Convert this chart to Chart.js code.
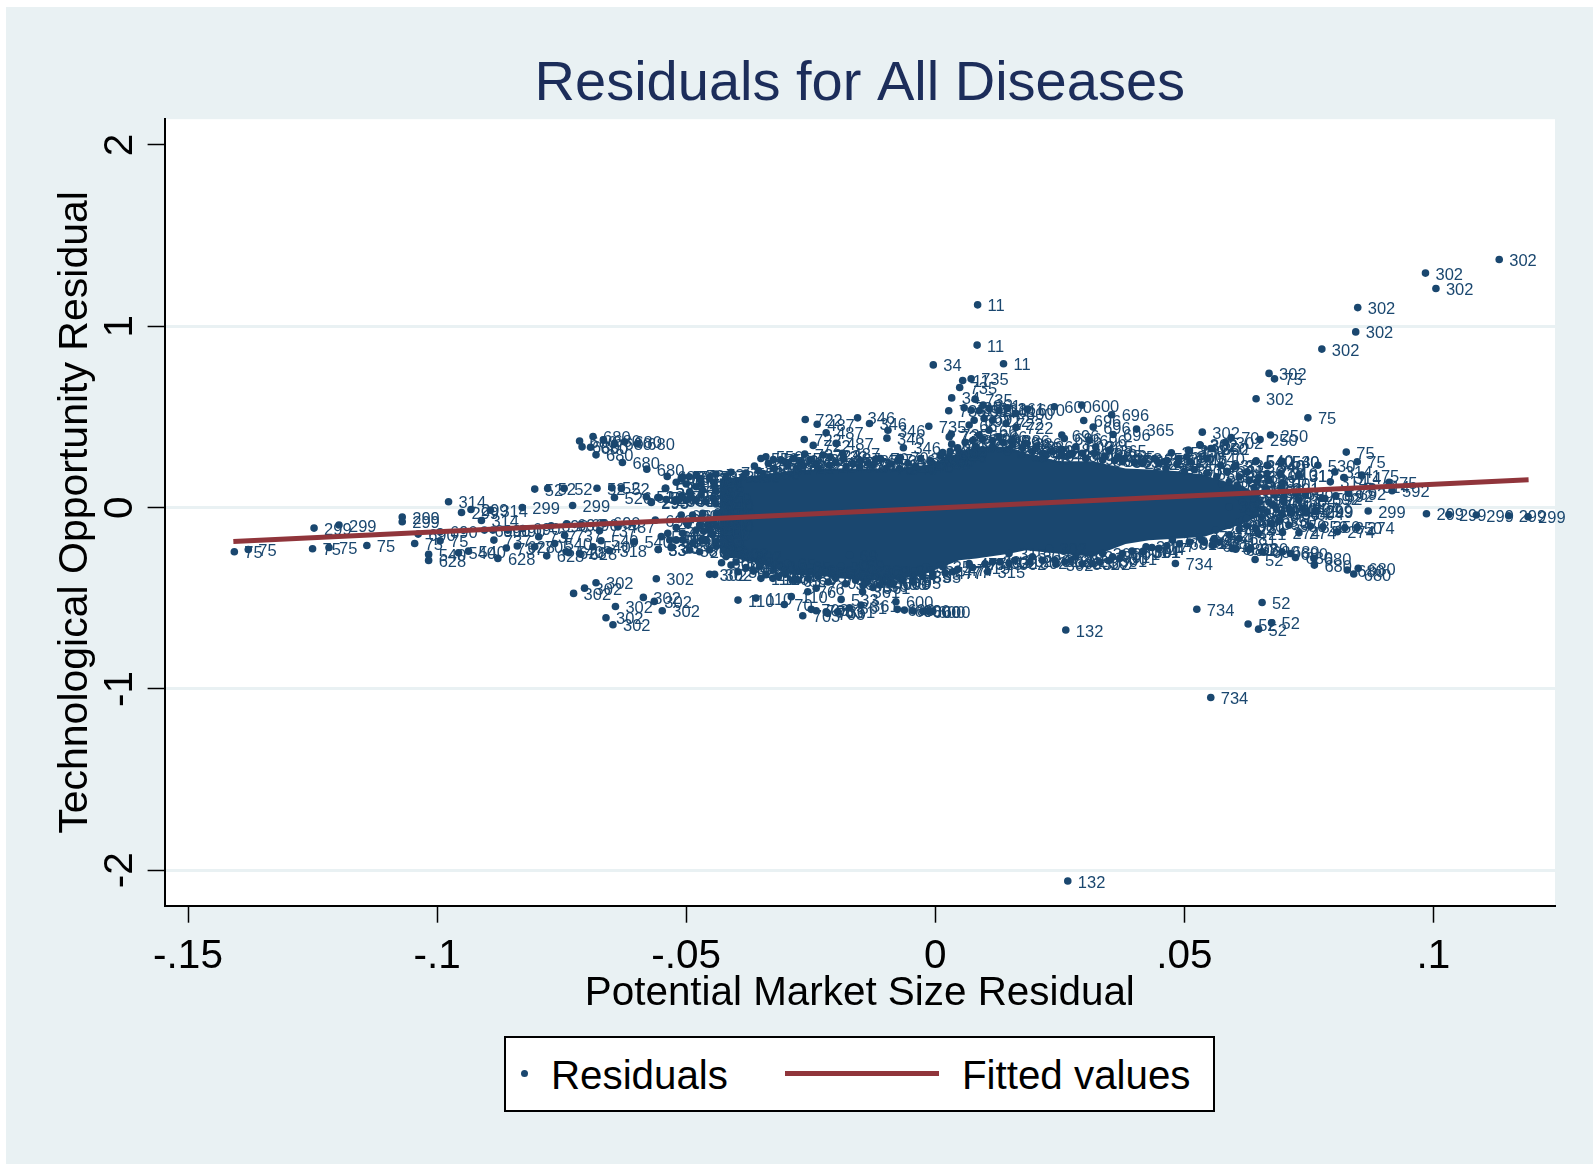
<!DOCTYPE html>
<html>
<head>
<meta charset="utf-8">
<title>Residuals for All Diseases</title>
<script src="https://cdn.jsdelivr.net/npm/chart.js@4"></script>
<style>
  html, body { margin: 0; padding: 0; background: #fff; }
  #page { position: relative; width: 1593px; height: 1164px; overflow: hidden; font-family: "Liberation Sans", Arial, sans-serif; }
  #bg { position: absolute; left: 6px; top: 7px; right: 0; bottom: 0; background: #e9f1f3; }
  #chart { position: absolute; left: 0; top: 0; }
  #legend { position: absolute; left: 504px; top: 1036px; width: 707px; height: 72px; background: #fff; border: 2px solid #000; color: #000; font-size: 40.3px; }
  #legend span { position: absolute; top: 14px; line-height: 48px; white-space: nowrap; }
  #legend i { position: absolute; display: block; }
  #legendDot { left: 15px; top: 32px; width: 7px; height: 7px; border-radius: 50%; background: #1a476f; }
  #legendLine { left: 279px; top: 33px; width: 154px; height: 5px; background: #90353b; }
</style>
</head>
<body>
<div id="page">
  <div id="bg"></div>
  <canvas id="chart" width="1593" height="1164"></canvas>
  <div id="legend">
    <i id="legendDot"></i><span style="left:45px">Residuals</span>
    <i id="legendLine"></i><span style="left:456px">Fitted values</span>
  </div>
</div>
<script>
// --- Data ---
const xTickValues = [-0.15, -0.1, -0.05, 0, 0.05, 0.1];
const xTickLabels = ['-.15', '-.1', '-.05', '0', '.05', '.1'];
const yTickValues = [2, 1, 0, -1, -2];
const yTickLabels = ['2', '1', '0', '-1', '-2'];

const fittedX = [-0.1409, 0.1191];
const fittedY = [-0.187, 0.153];

// Central mass: too many overlapping markers to read one by one, so its outline is read instead
const blobX = [-0.0433, -0.0386, -0.0353, -0.0286, -0.0219, -0.0152, -0.0086, -0.0019, 0.0048, 0.0082, 0.0148, 0.0182, 0.0249, 0.0316, 0.0382, 0.0429, 0.0489, 0.054, 0.0596, 0.065];
const blobTop = [0.16, 0.17, 0.18, 0.205, 0.215, 0.215, 0.215, 0.235, 0.3, 0.335, 0.335, 0.3, 0.255, 0.255, 0.215, 0.21, 0.2, 0.18, 0.13, 0.07];
const blobBottom = [-0.25, -0.29, -0.31, -0.37, -0.38, -0.4, -0.4, -0.365, -0.29, -0.28, -0.255, -0.235, -0.255, -0.27, -0.2, -0.18, -0.17, -0.16, -0.11, -0.05];

// Residual points as [x, y, label]
const farLeft = [
  [-0.1407, -0.243, '75'], [-0.1379, -0.231, '75'], [-0.1247, -0.113, '299'], [-0.1197, -0.096, '299'],
  [-0.125, -0.227, '75'], [-0.1217, -0.22, '75'], [-0.1141, -0.209, '75'], [-0.107, -0.052, '299'],
  [-0.107, -0.078, '299'], [-0.1038, -0.146, '690'], [-0.1045, -0.198, '75'], [-0.1017, -0.258, '540'],
  [-0.1017, -0.291, '628'], [-0.0977, 0.032, '314'], [-0.0932, -0.01, '299'], [-0.0951, -0.027, '299'],
  [-0.0911, -0.071, '314'], [-0.0893, -0.014, '314'], [-0.0829, 0.001, '299'], [-0.0994, -0.133, '690'],
  [-0.0994, -0.183, '75'], [-0.0957, -0.249, '540'], [-0.0937, -0.24, '540'], [-0.0878, -0.28, '628'],
  [-0.0886, -0.179, '737'], [-0.0861, -0.223, '737'], [-0.0839, -0.212, '628'],
];
const leftMiddle = [
  [-0.0804, -0.216, '705'], [-0.078, -0.266, '628'], [-0.0741, -0.243, '540'], [-0.0764, -0.198, '540'],
  [-0.0744, -0.152, '737'], [-0.0771, -0.1, '690'], [-0.0739, -0.091, '690'], [-0.0711, -0.093, '690'],
  [-0.0667, -0.084, '690'], [-0.0637, -0.106, '487'], [-0.0674, -0.128, '737'], [-0.0671, -0.183, '540'],
  [-0.0687, -0.216, '540'], [-0.0654, -0.238, '318'], [-0.0604, -0.188, '540'], [-0.0556, -0.231, '33'],
  [-0.0533, -0.179, '540'], [-0.053, -0.221, '33'], [-0.0562, -0.069, '690'], [-0.0714, -0.253, '628'],
  [-0.0735, -0.249, '628'], [-0.0796, -0.161, '737'], [-0.0858, -0.124, '690'], [-0.0888, -0.124, '690'],
  [-0.0905, -0.124, '690'], [-0.0828, -0.115, '690'],
  [-0.0804, 0.102, '52'], [-0.0778, 0.106, '52'], [-0.0745, 0.106, '52'], [-0.0728, 0.012, '299'],
  [-0.0679, 0.107, '52'], [-0.0649, 0.109, '52'], [-0.063, 0.106, '52'], [-0.0644, 0.056, '526'],
  [-0.058, 0.06, '526'], [-0.0541, 0.107, '52'], [-0.0554, 0.056, '526'], [-0.057, 0.028, '293'],
];
const leftCloud680 = [
  [-0.0714, 0.367, '680'], [-0.0687, 0.392, '680'], [-0.0709, 0.335, '680'], [-0.0692, 0.333, '680'],
  [-0.0666, 0.372, '680'], [-0.0644, 0.354, '680'], [-0.0624, 0.363, '680'], [-0.0598, 0.352, '680'],
  [-0.0681, 0.291, '680'], [-0.0628, 0.249, '680'], [-0.0579, 0.212, '680'], [-0.0538, 0.172, '680'],
];
const leftLow302 = [
  [-0.0726, -0.473, '302'], [-0.0704, -0.444, '302'], [-0.0681, -0.414, '302'], [-0.056, -0.392, '302'],
  [-0.0642, -0.545, '302'], [-0.0661, -0.607, '302'], [-0.0647, -0.646, '302'], [-0.0586, -0.495, '302'],
  [-0.0564, -0.517, '302'], [-0.0548, -0.569, '302'],
];
const blobLeftEnd = [
  [-0.057, 0.032, '293'], [-0.0557, 0.056, '526'], [-0.054, 0.045, '293'], [-0.052, 0.041, '340'],
  [-0.05, 0.041, '340'], [-0.048, 0.041, '340'], [-0.046, 0.032, '340'], [-0.051, 0.161, '680'],
  [-0.0494, 0.17, '73'], [-0.0473, 0.161, '73'], [-0.0453, 0.161, '73'], [-0.0542, 0.106, '52'],
  [-0.0467, 0.096, '52'], [-0.0493, 0.087, '52'], [-0.048, 0.115, '52'], [-0.0443, 0.115, '52'],
  [-0.051, -0.041, '690'], [-0.0487, -0.041, '690'], [-0.0467, -0.032, '690'], [-0.0537, -0.142, '540'],
  [-0.0507, -0.142, '540'], [-0.053, -0.216, '33'], [-0.0556, -0.231, '33'], [-0.0507, -0.179, '540'],
  [-0.0487, -0.198, '33'], [-0.0467, -0.179, '33'], [-0.0493, -0.234, '33'], [-0.0473, -0.243, '262'],
  [-0.0453, -0.234, '262'], [-0.048, -0.124, '540'], [-0.0453, -0.124, '540'], [-0.0497, -0.096, '690'],
  [-0.0473, -0.096, '690'], [-0.0457, -0.096, '690'], [-0.044, -0.188, '33'],
  [-0.0445, 0.14, '52'], [-0.044, 0.09, '52'], [-0.0445, 0.05, '340'], [-0.044, 0.02, '340'],
  [-0.0437, -0.03, '690'], [-0.0447, -0.07, '690'], [-0.044, -0.1, '540'], [-0.0447, -0.15, '540'],
  [-0.044, -0.21, '33'], [-0.046, -0.18, '33'], [-0.0465, -0.13, '540'], [-0.047, 0.13, '52'],
  [-0.05, 0.13, '52'], [-0.052, 0.14, '52'], [-0.047, 0.07, '52'], [-0.049, 0.06, '526'],
  [-0.051, 0.06, '526'], [-0.047, -0.06, '690'], [-0.05, -0.08, '690'], [-0.052, -0.11, '540'],
  [-0.055, -0.16, '540'], [-0.052, -0.18, '540'],
];
const blobTopEdge = [
  [-0.0507, 0.17, '73'], [-0.048, 0.179, '73'], [-0.0453, 0.17, '73'], [-0.042, 0.174, '73'],
  [-0.0386, 0.17, '550'], [-0.0363, 0.229, '550'], [-0.034, 0.28, '550'], [-0.035, 0.271, '550'],
  [-0.031, 0.262, '550'], [-0.0273, 0.253, '550'], [-0.0346, 0.188, '550'], [-0.0323, 0.216, '550'],
  [-0.0296, 0.234, '550'], [-0.0279, 0.216, '722'], [-0.0239, 0.243, '722'], [-0.0213, 0.234, '722'],
  [-0.0179, 0.225, '487'], [-0.0152, 0.225, '487'], [-0.0126, 0.234, '70'], [-0.0099, 0.216, '70'],
  [-0.0072, 0.216, '346'], [-0.0039, 0.225, '346'], [-0.0005, 0.243, '735'], [0.0021, 0.262, '66'],
  [0.0215, 0.271, '48'], [0.0269, 0.289, '48'], [0.0302, 0.271, '696'], [0.0336, 0.262, '365'],
  [0.0376, 0.253, '353'], [0.0416, 0.243, '251'], [0.0449, 0.243, '251'], [0.0463, 0.216, '251'],
  [-0.044, 0.185, '73'], [-0.041, 0.195, '73'], [-0.038, 0.19, '550'], [-0.0355, 0.205, '550'],
  [-0.0335, 0.245, '550'], [-0.0325, 0.265, '550'], [-0.03, 0.25, '550'], [-0.0285, 0.27, '550'],
  [-0.0265, 0.23, '722'], [-0.025, 0.265, '722'], [-0.0235, 0.22, '722'], [-0.0225, 0.29, '722'],
  [-0.02, 0.25, '487'], [-0.0185, 0.27, '487'], [-0.0165, 0.24, '487'], [-0.015, 0.26, '487'],
  [-0.0135, 0.245, '70'], [-0.011, 0.27, '70'], [-0.009, 0.24, '70'], [-0.0075, 0.26, '346'],
  [-0.0055, 0.245, '346'], [-0.003, 0.27, '346'], [-0.001, 0.26, '735'], [0.001, 0.285, '735'],
  [0.003, 0.31, '66'], [0.0045, 0.33, '66'], [0.006, 0.36, '66'], [0.0075, 0.37, '66'],
  [0.0095, 0.38, '399'], [0.0115, 0.37, '399'], [0.0135, 0.36, '399'], [0.0155, 0.345, '386'],
  [0.0175, 0.33, '386'], [0.0195, 0.31, '386'], [0.0215, 0.3, '48'], [0.0235, 0.31, '48'],
  [0.0255, 0.32, '48'], [0.0275, 0.3, '48'], [0.0295, 0.3, '696'], [0.032, 0.3, '696'],
  [0.034, 0.285, '365'], [0.036, 0.26, '365'], [0.038, 0.27, '353'], [0.04, 0.25, '251'],
  [0.042, 0.26, '251'], [0.044, 0.27, '251'], [0.0465, 0.26, '251'], [0.0485, 0.24, '251'],
  [0.0505, 0.28, '350'],
];
const topCluster = [
  [0.0085, 1.118, '11'], [0.0084, 0.896, '11'], [0.0137, 0.793, '11'], [-0.0004, 0.787, '34'],
  [0.0055, 0.701, '11'], [0.0072, 0.71, '735'], [0.0049, 0.662, '735'], [0.0033, 0.605, '34'],
  [0.008, 0.598, '735'], [0.0027, 0.534, '735'], [0.0058, 0.55, '735'], [0.0096, 0.565, '361'],
  [0.0185, 0.543, '600'], [0.0239, 0.556, '600'], [0.0294, 0.565, '600'], [0.0354, 0.512, '696'],
  [0.0298, 0.48, '696'], [0.0317, 0.444, '696'], [0.0357, 0.403, '696'], [0.0404, 0.433, '365'],
  [0.0254, 0.4, '696'], [0.0259, 0.381, '696'], [0.0072, 0.537, '691'], [0.0088, 0.534, '691'],
  [0.0108, 0.547, '361'], [0.0128, 0.537, '361'], [0.0145, 0.547, '361'], [0.0162, 0.519, '600'],
  [0.0078, 0.482, '691'], [0.0098, 0.492, '691'], [0.0115, 0.482, '722'], [0.0142, 0.464, '722'],
  [0.0162, 0.442, '722'], [0.0068, 0.455, '66'], [0.0088, 0.4, '66'], [0.0108, 0.427, '66'],
  [0.0128, 0.39, '66'], [0.0155, 0.372, '386'], [0.0179, 0.354, '386'], [0.0202, 0.335, '386'],
  [0.0082, 0.335, '399'], [0.0115, 0.335, '399'], [0.0145, 0.308, '399'], [0.0172, 0.289, '399'],
  [0.0222, 0.289, '48'], [0.0255, 0.289, '48'], [0.0282, 0.335, '600'], [0.0309, 0.372, '696'],
  [0.0322, 0.335, '365'], [0.0349, 0.317, '365'], [0.0366, 0.28, '365'],
];
const upperMiddle = [
  [-0.0261, 0.486, '722'], [-0.0237, 0.46, '487'], [-0.0219, 0.413, '487'], [-0.0156, 0.495, '346'],
  [-0.0132, 0.464, '346'], [-0.0095, 0.427, '346'], [-0.0097, 0.383, '346'], [-0.0064, 0.33, '346'],
  [-0.0013, 0.449, '735'], [0.0032, 0.405, '735'], [0.0028, 0.39, '735'], [0.0033, 0.35, '66'],
  [-0.0263, 0.376, '722'], [-0.0245, 0.343, '722'], [-0.0199, 0.354, '487'], [-0.0262, 0.295, '722'],
  [-0.0211, 0.28, '722'], [-0.0186, 0.299, '487'], [-0.012, 0.266, '487'], [-0.007, 0.276, '70'],
  [0.0015, 0.304, '346'], [0.0028, 0.28, '346'], [0.0048, 0.308, '66'],
];
const blobBottomEdge = [
  [-0.0453, -0.368, '302'], [-0.0443, -0.368, '302'], [-0.0429, -0.304, '302'], [-0.041, -0.317, '302'],
  [-0.0396, -0.354, '302'], [-0.035, -0.39, '110'], [-0.0326, -0.39, '110'], [-0.0286, -0.4, '65'],
  [-0.0256, -0.354, '65'], [-0.0239, -0.344, '65'], [-0.0189, -0.322, '70'], [-0.0169, -0.372, '36'],
  [-0.0146, -0.39, '36'], [-0.0136, -0.409, '36'], [-0.0112, -0.427, '36'], [-0.0092, -0.418, '600'],
  [-0.0072, -0.39, '95'], [-0.0045, -0.381, '95'], [-0.0005, -0.363, '35'], [0.0035, -0.354, '477'],
  [0.0105, -0.354, '315'], [-0.0172, -0.262, '69'], [0.0242, -0.312, '302'], [0.0272, -0.29, '302'],
  [0.0316, -0.308, '302'], [0.0356, -0.271, '301'], [0.0148, -0.308, '302'], [0.0115, -0.299, '302'],
  [-0.041, -0.253, '302'], [-0.0383, -0.271, '302'], [-0.0353, -0.326, '110'], [-0.0326, -0.345, '110'],
  [-0.0296, -0.308, '65'], [-0.0266, -0.326, '65'], [-0.0219, -0.354, '70'], [-0.0193, -0.363, '70'],
  [-0.0159, -0.317, '69'], [-0.0126, -0.345, '36'], [-0.0092, -0.354, '95'], [-0.0059, -0.345, '95'],
  [-0.0019, -0.326, '35'], [0.0015, -0.326, '35'], [0.0068, -0.308, '477'], [0.0148, -0.253, '315'],
  [0.0195, -0.271, '302'], [0.0229, -0.225, '302'], [0.0282, -0.271, '302'], [0.0336, -0.253, '301'],
  [0.0376, -0.253, '301'], [0.0423, -0.216, '301'], [0.0449, -0.225, '17'], [0.0476, -0.179, '17'],
  [0.0416, -0.243, '301'], [0.0418, -0.24, '301'],
  [-0.042, -0.27, '302'], [-0.04, -0.3, '302'], [-0.038, -0.33, '302'], [-0.0365, -0.35, '110'],
  [-0.034, -0.37, '110'], [-0.0315, -0.38, '110'], [-0.03, -0.36, '65'], [-0.0275, -0.4, '65'],
  [-0.0255, -0.39, '65'], [-0.0235, -0.38, '65'], [-0.0215, -0.41, '70'], [-0.02, -0.39, '70'],
  [-0.018, -0.42, '36'], [-0.016, -0.4, '36'], [-0.0145, -0.43, '36'], [-0.0125, -0.44, '361'],
  [-0.0105, -0.41, '600'], [-0.0085, -0.42, '600'], [-0.0065, -0.4, '95'], [-0.0045, -0.41, '95'],
  [-0.0025, -0.38, '35'], [-0.0005, -0.38, '35'], [0.002, -0.36, '477'], [0.0045, -0.34, '477'],
  [0.0075, -0.33, '315'], [0.01, -0.31, '315'], [0.013, -0.3, '302'], [0.016, -0.29, '302'],
  [0.019, -0.3, '302'], [0.0215, -0.29, '302'], [0.024, -0.29, '302'], [0.026, -0.3, '302'],
  [0.0295, -0.31, '302'], [0.033, -0.3, '302'], [0.035, -0.29, '301'], [0.037, -0.28, '301'],
  [0.0395, -0.24, '301'], [0.0435, -0.22, '17'], [0.0465, -0.21, '17'], [0.049, -0.2, '681'],
  [0.051, -0.19, '681'], [0.0535, -0.18, '681'], [0.056, -0.17, '274'],
];
const lowerMiddle = [
  [-0.0396, -0.51, '110'], [-0.036, -0.499, '110'], [-0.0303, -0.534, '70'], [-0.0289, -0.491, '110'],
  [-0.0266, -0.596, '703'], [-0.0256, -0.464, '76'], [-0.0239, -0.445, '76'], [-0.0249, -0.561, '703'],
  [-0.0239, -0.569, '703'], [-0.0219, -0.574, '703'], [-0.0216, -0.583, '703'], [-0.0196, -0.574, '361'],
  [-0.0172, -0.552, '361'], [-0.0189, -0.506, '533'], [-0.0149, -0.537, '361'], [-0.0146, -0.464, '361'],
  [-0.0079, -0.519, '600'], [-0.0076, -0.561, '600'], [-0.0062, -0.565, '600'], [-0.0045, -0.569, '600'],
  [-0.0025, -0.571, '600'], [-0.0015, -0.571, '600'], [-0.0005, -0.571, '600'],
  [0.0262, -0.675, '132'], [0.0266, -2.059, '132'],
];
const rightOutliers = [
  [0.1132, 1.368, '302'], [0.0984, 1.293, '302'], [0.1005, 1.208, '302'], [0.0848, 1.103, '302'],
  [0.0844, 0.969, '302'], [0.0776, 0.874, '302'], [0.067, 0.74, '302'], [0.0681, 0.71, '75'],
  [0.0644, 0.6, '302'], [0.0748, 0.495, '75'], [0.0482, -0.308, '734'], [0.0525, -0.56, '734'],
  [0.0656, -0.523, '52'], [0.0628, -0.642, '52'], [0.0675, -0.635, '52'], [0.0649, -0.67, '52'],
  [0.0553, -1.047, '734'],
];
const rightTop = [
  [0.0536, 0.416, '302'], [0.0673, 0.4, '250'], [0.0594, 0.387, '70'], [0.0652, 0.376, '250'],
  [0.0583, 0.359, '302'], [0.0532, 0.344, '302'], [0.0556, 0.326, '302'], [0.0825, 0.306, '75'],
  [0.0508, 0.317, '350'], [0.0474, 0.302, '251'], [0.0847, 0.253, '75'], [0.0768, 0.234, '530'],
  [0.0696, 0.256, '540'], [0.0644, 0.258, '540'], [0.0668, 0.231, '540'], [0.06, 0.225, '33'],
  [0.0802, 0.197, '314'], [0.073, 0.179, '317'], [0.0856, 0.179, '175'], [0.082, 0.166, '314'],
  [0.0793, 0.142, '314'], [0.0877, 0.115, '314'], [0.0911, 0.139, '75'], [0.0917, 0.093, '592'],
  [0.0829, 0.087, '75'], [0.0804, 0.065, '592'], [0.0782, 0.05, '592'],
  [0.051, 0.313, '251'], [0.0531, 0.346, '302'], [0.0553, 0.326, '350'], [0.0511, 0.253, '540'],
  [0.0489, 0.271, '251'], [0.0459, 0.253, '251'], [0.0546, 0.271, '540'], [0.0573, 0.234, '33'],
  [0.0603, 0.234, '33'], [0.0643, 0.253, '540'], [0.0666, 0.234, '540'], [0.0696, 0.253, '530'],
  [0.0626, 0.197, '530'], [0.0666, 0.188, '310'], [0.0693, 0.188, '310'], [0.073, 0.179, '317'],
  [0.059, 0.142, '530'], [0.0646, 0.142, '530'], [0.0696, 0.133, '201'], [0.0606, 0.124, '530'],
  [0.0623, 0.087, '201'], [0.0663, 0.087, '201'], [0.0696, 0.106, '201'], [0.0724, 0.078, '69'],
  [0.0743, 0.069, '69'], [0.0777, 0.051, '592'], [0.083, 0.078, '592'],
  [0.05, 0.2, '530'], [0.052, 0.21, '530'], [0.0545, 0.19, '530'], [0.0565, 0.17, '530'],
  [0.0585, 0.2, '33'], [0.061, 0.17, '33'], [0.063, 0.15, '310'], [0.065, 0.17, '310'],
  [0.067, 0.15, '310'], [0.0575, 0.13, '201'], [0.0615, 0.1, '201'], [0.064, 0.11, '201'],
  [0.0665, 0.1, '201'], [0.068, 0.07, '69'], [0.07, 0.06, '69'], [0.061, 0.06, '69'],
  [0.064, 0.05, '69'], [0.067, 0.03, '304'], [0.07, 0.03, '304'], [0.073, 0.04, '304'],
];
const rightBottom = [
  [0.0869, -0.019, '299'], [0.0986, -0.034, '299'], [0.1031, -0.038, '299'], [0.1086, -0.041, '299'],
  [0.1151, -0.045, '299'], [0.119, -0.051, '299'], [0.0764, -0.023, '299'], [0.065, 0.032, '304'],
  [0.0677, 0.014, '304'], [0.071, -0.005, '304'], [0.0737, -0.005, '304'], [0.0763, -0.014, '299'],
  [0.0616, 0.032, '304'], [0.059, 0.005, '304'], [0.063, -0.023, '304'], [0.0666, -0.023, '304'],
  [0.0696, -0.032, '304'], [0.0675, -0.087, '350'], [0.071, -0.097, '350'], [0.0753, -0.102, '350'],
  [0.0778, -0.106, '350'], [0.0822, -0.111, '350'], [0.0847, -0.109, '274'], [0.0807, -0.133, '274'],
  [0.073, -0.139, '274'], [0.0697, -0.137, '274'], [0.0643, -0.115, '21'], [0.0648, -0.144, '21'],
  [0.0631, -0.229, '52'], [0.0642, -0.286, '52'], [0.0713, -0.253, '680'], [0.0723, -0.275, '680'],
  [0.076, -0.28, '680'], [0.0761, -0.317, '680'], [0.0827, -0.344, '680'], [0.0849, -0.335, '680'],
  [0.084, -0.366, '680'], [0.0603, -0.229, '680'], [0.061, -0.078, '880'], [0.0616, -0.069, '880'],
  [0.059, -0.097, '880'], [0.0563, -0.124, '274'], [0.053, -0.161, '274'], [0.0556, -0.207, '681'],
  [0.0596, -0.225, '680'], [0.0633, -0.225, '680'], [0.0656, -0.243, '680'], [0.0696, -0.243, '680'],
  [0.0655, -0.01, '304'], [0.0685, -0.01, '304'], [0.0715, -0.03, '304'], [0.0745, -0.03, '304'],
  [0.0625, -0.06, '880'], [0.0655, -0.05, '880'], [0.069, -0.07, '350'], [0.061, -0.12, '274'],
  [0.059, -0.15, '274'], [0.057, -0.19, '681'], [0.061, -0.17, '681'], [0.054, -0.19, '681'],
  [0.0625, -0.1, '880'],
];

const residuals = [].concat(farLeft, leftMiddle, leftCloud680, leftLow302, blobLeftEnd, blobTopEdge, topCluster,
  upperMiddle, blobBottomEdge, lowerMiddle, rightOutliers, rightTop, rightBottom);

const NAVY = '#1a476f';
const MAROON = '#90353b';
const BG = '#e9f1f3';
const FONT = '"Liberation Sans", Arial, sans-serif';

// --- Plugins ---
// White plot region on top of the page background
const plotBackground = {
  id: 'plotBackground',
  beforeDraw(chart) {
    const a = chart.chartArea;
    chart.ctx.fillStyle = '#fff';
    chart.ctx.fillRect(a.left, a.top, a.right - a.left, a.bottom - a.top);
  },
};

// Marker labels, drawn right after the residual markers so the fitted line stays on top
const markerLabels = {
  id: 'markerLabels',
  afterDatasetDraw(chart, args) {
    if (args.index !== 0) return;
    const { ctx, scales } = chart;
    ctx.save();
    ctx.font = '16.5px ' + FONT;
    ctx.fillStyle = NAVY;
    ctx.textBaseline = 'middle';
    residuals.forEach((p) => {
      ctx.fillText(p[2], scales.x.getPixelForValue(p[0]) + 10, scales.y.getPixelForValue(p[1]) + 2);
    });
    ctx.restore();
  },
};

// Chart.js anchors rotated y labels at their end, so they are centred on the tick here
const rotatedYLabels = {
  id: 'rotatedYLabels',
  afterDraw(chart) {
    const { ctx, scales } = chart;
    ctx.save();
    ctx.font = '40.5px ' + FONT;
    ctx.fillStyle = '#000';
    ctx.textAlign = 'center';
    ctx.textBaseline = 'middle';
    yTickValues.forEach((v, i) => {
      ctx.save();
      ctx.translate(121, scales.y.getPixelForValue(v));
      ctx.rotate(-Math.PI / 2);
      ctx.fillText(yTickLabels[i], 0, 0);
      ctx.restore();
    });
    ctx.restore();
  },
};

// --- Chart ---
new Chart(document.getElementById('chart').getContext('2d'), {
  type: 'scatter',
  data: {
    datasets: [
      {
        label: 'Residuals',
        data: residuals.map((p) => ({ x: p[0], y: p[1] })),
        backgroundColor: NAVY,
        borderWidth: 0,
        pointRadius: 3.8,
        order: 2,
      },
      {
        label: 'Fitted values',
        type: 'line',
        data: fittedX.map((x, i) => ({ x, y: fittedY[i] })),
        borderColor: MAROON,
        borderWidth: 5,
        pointRadius: 0,
        order: 1,
      },
      {
        label: 'blob top',
        type: 'line',
        data: blobX.map((x, i) => ({ x, y: blobTop[i] })),
        borderWidth: 0,
        pointRadius: 0,
        backgroundColor: NAVY,
        fill: '+1',
        order: 3,
      },
      {
        label: 'blob bottom',
        type: 'line',
        data: blobX.map((x, i) => ({ x, y: blobBottom[i] })),
        borderWidth: 0,
        pointRadius: 0,
        order: 4,
      },
    ],
  },
  options: {
    responsive: false,
    animation: false,
    devicePixelRatio: 1,
    layout: { padding: { right: 38 } },
    plugins: {
      legend: { display: false },
      tooltip: { enabled: false },
      title: {
        display: true,
        text: 'Residuals for All Diseases',
        color: '#1c2d5a',
        fullSize: false,
        font: { family: FONT, size: 56, weight: 'normal', lineHeight: 1.2 },
        padding: { top: 51, bottom: 1 },
      },
    },
    scales: {
      x: {
        type: 'linear',
        min: -0.1547,
        max: 0.1244,
        afterBuildTicks(scale) { scale.ticks = xTickValues.map((value) => ({ value })); },
        afterFit(scale) { scale.height = 1164 - 905.7; },
        ticks: {
          color: '#000',
          font: { family: FONT, size: 40.5 },
          padding: 10,
          maxRotation: 0,
          autoSkip: false,
          callback: (v) => xTickLabels[xTickValues.indexOf(v)],
        },
        grid: { drawOnChartArea: false, tickColor: '#000', tickWidth: 1.5, tickLength: 17 },
        border: { color: '#000', width: 2 },
        title: {
          display: true,
          text: 'Potential Market Size Residual',
          color: '#000',
          font: { family: FONT, size: 40.4, weight: 'normal', lineHeight: 1.2 },
          padding: { top: 0, bottom: 146 },
        },
      },
      y: {
        type: 'linear',
        min: -2.195,
        max: 2.1417,
        afterBuildTicks(scale) { scale.ticks = yTickValues.map((value) => ({ value })); },
        afterFit(scale) { scale.width = 164.6; },
        ticks: { display: false },
        grid: {
          color: (ctx) => (ctx.tick && ctx.tick.value === 2 ? 'rgba(0,0,0,0)' : BG),
          lineWidth: 3,
          tickColor: '#000',
          tickWidth: 1.5,
          tickLength: 17,
        },
        border: { color: '#000', width: 2 },
        title: {
          display: true,
          text: 'Technological Opportunity Residual',
          color: '#000',
          font: { family: FONT, size: 41, weight: 'normal', lineHeight: 1.2 },
          padding: { top: 51, bottom: 0 },
        },
      },
    },
  },
  plugins: [plotBackground, markerLabels, rotatedYLabels],
});
</script>
</body>
</html>
